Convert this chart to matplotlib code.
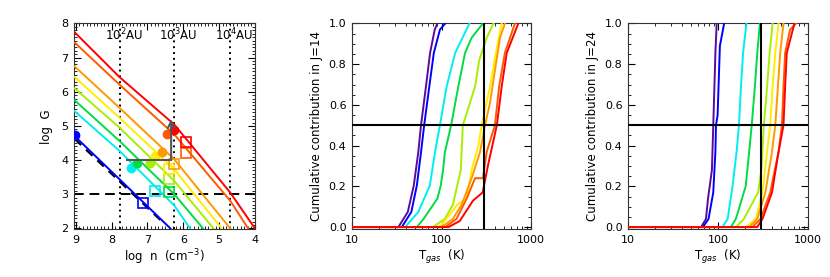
import numpy as np
import matplotlib
matplotlib.use("Agg")
import matplotlib.pyplot as plt
from matplotlib.ticker import MultipleLocator, LogLocator, NullFormatter, FixedLocator

plt.rcParams['font.family'] = ['DejaVu Sans']
plt.rcParams['font.size'] = 8

# ---------------- data: panel 1 ----------------
colors = ['#0000ff', '#00eeee', '#00dd44', '#a8ee00', '#ffee00', '#ff9900', '#ff5a00', '#ff0000']
line_n = [
    [9.03, 7.78, 6.36],              # blue
    [9.03, 7.78, 6.25, 5.81],        # cyan
    [9.03, 7.78, 6.25, 5.45],        # green
    [9.03, 7.78, 6.25, 5.16],        # yellow-green
    [9.03, 7.78, 6.25, 4.93],        # yellow
    [9.03, 7.78, 6.25, 4.69],        # orange
    [9.03, 7.78, 6.25, 4.69, 4.19],  # orange-red
    [9.03, 7.78, 6.25, 4.69, 4.00],  # red
]
line_G = [
    [4.70, 3.44, 2.00],
    [5.43, 4.27, 2.67, 2.00],
    [5.75, 4.56, 3.00, 2.00],
    [6.10, 4.95, 3.39, 2.00],
    [6.43, 5.24, 3.73, 2.00],
    [6.74, 5.53, 4.02, 2.00],
    [7.44, 6.21, 4.75, 2.81, 2.00],
    [7.74, 6.43, 5.04, 3.05, 2.00],
]
dash_n = [9.03, 6.64]
dash_G = [4.62, 2.25]
dot_n = [9.03, 7.47, 7.29, 6.94, 6.80, 6.60, 6.45, 6.25]
dot_G = [4.75, 3.78, 3.92, 3.92, 4.12, 4.23, 4.77, 4.89]
sq_n = [7.12, 6.78, 6.41, 6.41, 6.41, 6.27, 5.92, 5.92]
sq_G = [2.76, 3.10, 3.07, 3.44, 3.75, 3.89, 4.21, 4.53]
au_n = [7.78, 6.25, 4.69]
au_labels = ['10$^2$AU', '10$^3$AU', '10$^4$AU']
arrow_n = [7.58, 6.34]
arrow_G = [4.0, 5.2]
G_thresh = 3.0

# ---------------- data: panels 2, 3 ----------------
colors9 = ['#5a0aa0', '#0000ff', '#00eeee', '#00dd44', '#a8ee00', '#ffee00', '#ff9900', '#ff5a00', '#ff0000']
frac14 = [
    [0, 0.074, 0.204, 0.367, 0.5, 0.69, 0.855, 0.97, 1.0],
    [0, 0.074, 0.204, 0.367, 0.5, 0.69, 0.855, 0.97, 1.0],
    [0, 0.01, 0.074, 0.204, 0.367, 0.5, 0.69, 0.855, 1.0],
    [0, 0.04, 0.14, 0.204, 0.28, 0.367, 0.5, 0.69, 0.855, 0.93, 1.0],
    [0, 0.04, 0.11, 0.28, 0.5, 0.69, 0.82, 0.93, 1.0],
    [0, 0.01, 0.11, 0.14, 0.28, 0.40, 0.5, 0.69, 0.855, 1.0],
    [0, 0.04, 0.11, 0.24, 0.37, 0.5, 0.61, 0.77, 0.93, 1.0],
    [0, 0.04, 0.14, 0.24, 0.24, 0.37, 0.5, 0.69, 0.855, 1.0],
    [0, 0.03, 0.13, 0.17, 0.31, 0.5, 0.69, 0.855, 1.0],
]
T14 = [
    [33, 42, 49, 55, 59, 67, 74.5, 84, 90],
    [36, 46, 53, 59, 64, 73, 82, 96, 110],
    [40, 41, 55, 74, 84.5, 96, 114, 142, 205],
    [53, 63, 90, 98, 104, 109, 128, 154, 183, 217, 290],
    [80, 109, 134, 164, 173, 237, 264, 320, 380],
    [90, 100, 150, 191, 217, 258, 281, 348, 405, 470],
    [100, 134, 168, 217, 270, 306, 348, 395, 450, 510],
    [110, 147, 191, 237, 290, 320, 395, 440, 510, 660],
    [120, 160, 225, 288, 333, 415, 470, 535, 720],
]
frac24 = [
    [0, 0.04, 0.14, 0.28, 0.5, 0.855, 1.0],
    [0, 0.04, 0.17, 0.37, 0.5, 0.55, 0.89, 1.0],
    [0, 0.04, 0.2, 0.37, 0.5, 0.69, 0.855, 1.0],
    [0, 0.04, 0.2, 0.37, 0.5, 0.69, 0.855, 1.0],
    [0, 0.04, 0.17, 0.28, 0.5, 0.69, 0.855, 1.0],
    [0, 0.04, 0.17, 0.37, 0.5, 0.69, 0.855, 1.0],
    [0, 0.04, 0.17, 0.37, 0.5, 0.69, 0.855, 1.0],
    [0, 0.04, 0.17, 0.37, 0.5, 0.69, 0.855, 0.97, 1.0],
    [0, 0.04, 0.17, 0.37, 0.5, 0.69, 0.855, 1.0],
]
T24 = [
    [65, 73.5, 77.5, 85.6, 88.6, 93.6, 96.7],
    [68, 78.5, 88.6, 93.6, 95, 99, 105, 117],
    [112, 128, 145, 161, 171, 180, 190, 207],
    [139, 158, 203, 222, 237, 257, 273, 292],
    [158, 194, 279, 303, 323, 351, 375, 404],
    [203, 264, 312, 351, 380, 404, 433, 471],
    [222, 273, 336, 398, 433, 463, 491, 534],
    [241, 297, 380, 471, 513, 534, 557, 632, 736],
    [273, 312, 398, 471, 534, 557, 581, 706],
]
T_ref = 300.0
frac_ref = 0.5

# ---------------- figure ----------------
fig = plt.figure(figsize=(8.30, 2.77), dpi=100)
H = 0.7437
B = 0.1715
ax1 = fig.add_axes([0.0892, B, 0.2180, H])
ax2 = fig.add_axes([0.4241, B, 0.2157, H])
ax3 = fig.add_axes([0.7566, B, 0.2169, H])

def style(ax):
    ax.tick_params(which='both', direction='in', top=True, right=True, labelsize=8, pad=4)
    ax.tick_params(which='major', length=5, width=0.8)
    ax.tick_params(which='minor', length=2.5, width=0.6)
    for s in ax.spines.values():
        s.set_linewidth(0.8)
        s.set_color('#333333')

# panel 1
for n, g, c in zip(line_n, line_G, colors):
    ax1.plot(n, g, color=c, lw=1.4, zorder=3)
ax1.plot(dash_n, dash_G, color='k', lw=1.6, ls=(0, (4, 3)), zorder=2)
ax1.axhline(G_thresh, color='k', lw=1.4, ls=(0, (5, 3)), zorder=2)
for xv, lab in zip(au_n, au_labels):
    ax1.axvline(xv, color='k', lw=1.4, ls=(0, (1, 2)), zorder=1)
    ax1.annotate(lab, xy=(xv, 7.66), xytext=(3, 0), textcoords='offset points',
                 ha='center', va='center', fontsize=8.5, zorder=5)
for x, y, c in zip(dot_n, dot_G, colors):
    ax1.plot(x, y, 'o', color=c, ms=6, mec=c, zorder=4)
for x, y, c in zip(sq_n, sq_G, colors):
    ax1.plot(x, y, 's', mfc='none', mec=c, ms=6.5, mew=1.2, zorder=4)
ax1.plot([arrow_n[0], arrow_n[1]], [arrow_G[0], arrow_G[0]], color='#555555', lw=1.5, zorder=5)
ax1.annotate('', xy=(arrow_n[1], arrow_G[1]), xytext=(arrow_n[1], arrow_G[0]),
             arrowprops=dict(arrowstyle='->', color='#555555', lw=1.5,
                             mutation_scale=12, shrinkA=0, shrinkB=0), zorder=5)
ax1.set_xlim(9.05, 4.0)
ax1.set_ylim(1.97, 8.0)
ax1.xaxis.set_major_locator(FixedLocator([9, 8, 7, 6, 5, 4]))
ax1.xaxis.set_minor_locator(MultipleLocator(0.1))
ax1.yaxis.set_major_locator(MultipleLocator(1))
ax1.yaxis.set_minor_locator(MultipleLocator(0.1))
ax1.set_xlabel('log  n  (cm$^{-3}$)', fontsize=8.5, labelpad=2)
ax1.set_ylabel('log  G', fontsize=8.5, labelpad=6)
style(ax1)

def cum_panel(ax, Ts, fs, jlab):
    for T, f, c in zip(Ts, fs, colors9):
        ax.plot([10] + T, [0] + f, color=c, lw=1.4, zorder=3)
    ax.axhline(frac_ref, color='k', lw=1.5, zorder=4)
    ax.axvline(T_ref, color='k', lw=1.5, zorder=4)
    ax.set_xscale('log')
    ax.set_xlim(10, 1000)
    ax.set_ylim(-0.012, 1.0)
    ax.xaxis.set_major_locator(FixedLocator([10, 100, 1000]))
    ax.set_xticklabels(['10', '100', '1000'])
    ax.xaxis.set_minor_locator(LogLocator(base=10, subs=np.arange(2, 10)))
    ax.xaxis.set_minor_formatter(NullFormatter())
    ax.yaxis.set_major_locator(MultipleLocator(0.2))
    ax.yaxis.set_minor_locator(MultipleLocator(0.05))
    ax.set_yticks([0, 0.2, 0.4, 0.6, 0.8, 1.0])
    ax.set_yticklabels(['0.0', '0.2', '0.4', '0.6', '0.8', '1.0'])
    ax.set_xlabel('T$_{gas}$  (K)', fontsize=8.5, labelpad=2)
    ax.set_ylabel('Cumulative contribution in J=' + jlab, fontsize=8.5, labelpad=4)
    style(ax)

cum_panel(ax2, T14, frac14, '14')
cum_panel(ax3, T24, frac24, '24')

fig.savefig('out.png', dpi=100)
